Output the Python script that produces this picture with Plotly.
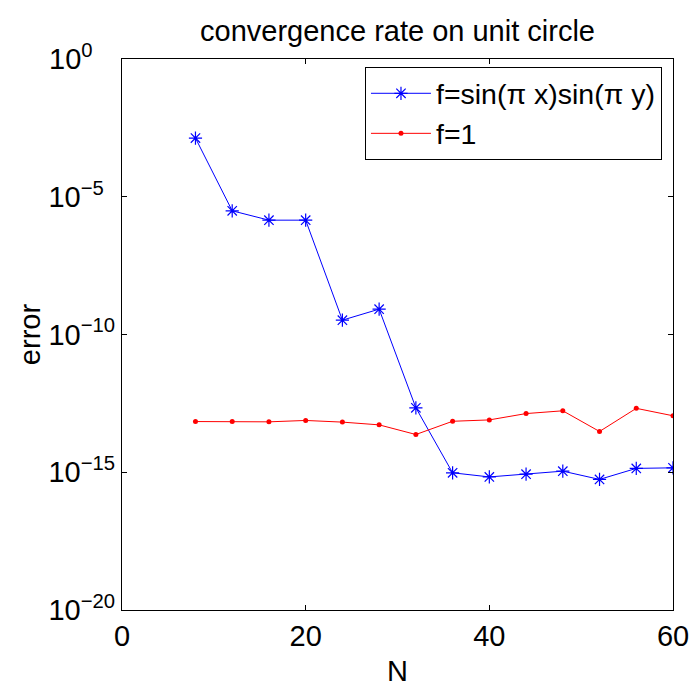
import plotly.graph_objects as go

N = [8, 12, 16, 20, 24, 28, 32, 36, 40, 44, 48, 52, 56, 60]
# log10 of error values
log_err_sin = [-2.87, -5.51, -5.85, -5.85, -9.48, -9.08, -12.66, -15.02, -15.17, -15.07, -14.96, -15.26, -14.86, -14.84]
log_err_one = [-13.16, -13.16, -13.17, -13.12, -13.18, -13.28, -13.63, -13.15, -13.10, -12.87, -12.77, -13.52, -12.68, -12.95]
err_sin = [10 ** v for v in log_err_sin]
err_one = [10 ** v for v in log_err_one]

ytick_vals = [1e0, 1e-5, 1e-10, 1e-15, 1e-20]
NB = "\u00a0"
ytick_text = ["10<sup>0" + NB * 4 + "</sup>", "10<sup>\u22125" + NB * 2 + "</sup>",
              "10<sup>\u221210</sup>", "10<sup>\u221215</sup>", "10<sup>\u221220</sup>"]
xtick_vals = [0, 20, 40, 60]

FONT = "Liberation Sans, Arial, Helvetica, sans-serif"

fig = go.Figure()
fig.add_trace(go.Scatter(
    x=N, y=err_sin, mode="lines+markers", name="f=sin(\u03c0 x)sin(\u03c0 y)",
    line=dict(color="#0000ff", width=1),
    marker=dict(symbol="asterisk-open", size=11, line=dict(color="#0000ff", width=1.2), color="#0000ff"),
))
fig.add_trace(go.Scatter(
    x=N, y=err_one, mode="lines+markers", name="f=1",
    line=dict(color="#ff0000", width=1),
    marker=dict(symbol="circle", size=5, color="#ff0000"),
))

axis_common = dict(
    showline=True, linecolor="black", linewidth=1.2, mirror="ticks",
    ticks="inside", ticklen=5, tickwidth=1, tickcolor="black",
    showgrid=False, zeroline=False, automargin=False,
    tickfont=dict(family=FONT, size=29, color="black"),
)

fig.update_layout(
    template="none",
    width=693, height=687,
    margin=dict(l=122, r=20, t=59, b=77),
    paper_bgcolor="white", plot_bgcolor="white",
    font=dict(family=FONT, size=29, color="black"),
    title=dict(text="convergence rate on unit circle", x=(122 + 673) / 2 / 693, xanchor="center",
               y=1 - 31 / 687, yanchor="middle", yref="container",
               font=dict(family=FONT, size=29, color="black")),
    xaxis=dict(range=[0, 60], tickvals=xtick_vals, title=dict(text="N",
               font=dict(family=FONT, size=29)), **axis_common),
    yaxis=dict(type="log", range=[-20, 0], tickvals=ytick_vals, ticktext=ytick_text,
               title=dict(text="error", font=dict(family=FONT, size=29)), **axis_common),
    legend=dict(x=0.98, y=0.985, xanchor="right", yanchor="top",
                bgcolor="white", bordercolor="black", borderwidth=1,
                font=dict(family=FONT, size=28.5, color="black"),
                tracegroupgap=0, itemwidth=60),
    showlegend=True,
)

fig.write_html("out.html")
